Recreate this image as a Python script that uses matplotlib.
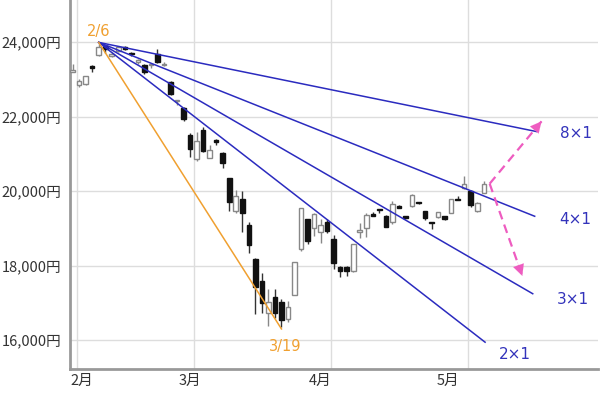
import matplotlib
matplotlib.use("Agg")
import matplotlib.pyplot as plt
from matplotlib.ticker import FuncFormatter
import matplotlib.transforms as mtransforms

plt.rcParams['font.family'] = ['Noto Sans CJK JP', 'DejaVu Sans']

# 日経平均 日足 (2020/1/31 - 5/8), 営業日インデックスで並べる
dates = ["1/31", "2/3", "2/4", "2/5", "2/6", "2/7", "2/10", "2/12", "2/13", "2/14",
         "2/17", "2/18", "2/19", "2/20", "2/21", "2/25", "2/26", "2/27", "2/28",
         "3/2", "3/3", "3/4", "3/5", "3/6", "3/9", "3/10", "3/11", "3/12", "3/13",
         "3/16", "3/17", "3/18", "3/19", "3/23", "3/24", "3/25", "3/26", "3/27",
         "3/30", "3/31", "4/1", "4/2", "4/3", "4/6", "4/7", "4/8", "4/9", "4/10",
         "4/13", "4/14", "4/15", "4/16", "4/17", "4/20", "4/21", "4/22", "4/23",
         "4/24", "4/27", "4/28", "4/30", "5/1", "5/7", "5/8"]
opens = [23200, 22860, 22880, 23340, 23660, 23900, 23640, 23760, 23880, 23710,
         23460, 23390, 23380, 23690, 23380, 22940, 22420, 22230, 21520,
         20850, 21650, 20900, 21380, 21030, 20350, 19470, 19780, 19080, 18190,
         17590, 16730, 17160, 17010, 16570, 17210, 18450, 19240, 19020,
         18890, 19170, 18710, 17960, 17960, 17860, 18890, 19020, 19380, 19520,
         19330, 19160, 19610, 19330, 19600, 19700, 19460, 19160, 19315,
         19330, 19420, 19790, 20090, 20000, 19470, 19960]
highs = [23410, 23000, 23090, 23400, 23995, 23930, 23740, 23870, 23900, 23730,
         23540, 23420, 23420, 23810, 23470, 22960, 22440, 22260, 21560,
         21600, 21720, 21250, 21400, 21060, 20360, 20040, 20000, 19160, 18200,
         17800, 17370, 17370, 17100, 17050, 18100, 19560, 19260, 19420,
         19240, 19250, 18820, 17990, 17990, 18580, 19150, 19420, 19430, 19525,
         19350, 19730, 19630, 19340, 19920, 19720, 19480, 19170, 19450,
         19340, 19800, 19860, 20400, 20020, 19700, 20270]
lows = [23190, 22800, 22860, 23200, 23640, 23700, 23600, 23730, 23800, 23620,
        23420, 23150, 23300, 23440, 23370, 22580, 22300, 21880, 20916,
        20800, 21050, 20880, 21250, 20627, 19470, 19400, 18890, 18340, 16690,
        16740, 16380, 16600, 16358, 16480, 17200, 18400, 18580, 18800,
        18620, 18880, 17900, 17700, 17720, 17820, 18750, 18760, 19330, 19400,
        19040, 19110, 19540, 19260, 19580, 19650, 19220, 18980, 19290,
        19220, 19400, 19760, 20070, 19570, 19450, 19940]
closes = [23250, 22971, 23084, 23319, 23873, 23827, 23685, 23861, 23827, 23687,
          23523, 23193, 23400, 23479, 23386, 22605, 22426, 21948, 21142,
          21344, 21082, 21100, 21329, 20749, 19698, 19867, 19416, 18559, 17431,
          17002, 17011, 16726, 16552, 16887, 18092, 19546, 18664, 19389,
          19084, 18917, 18065, 17860, 17860, 18576, 18950, 19353, 19345, 19498,
          19043, 19660, 19556, 19290, 19897, 19669, 19280, 19137, 19429,
          19262, 19783, 19771, 20193, 19619, 19674, 20179]

# ギャン・アングル (2/6 高値から)
start_day = 4
start_price = 23995
gann_labels = ["8×1", "4×1", "3×1", "2×1"]
gann_slopes = [35.7, 69.9, 101.5, 136.0]   # 1日あたりの下落幅
gann_end = [71.1, 70.8, 70.5, 63.2]
low_day = 32          # 3/19
low_price = 16300

# 今後のシナリオ (矢印)
arrow_start = (63.9, 20200)
arrow_up = (71.85, 21875)
arrow_down = (68.9, 17725)

month_labels = ["2月", "3月", "4月", "5月"]
month_first = [1, 19, 40, 61]

fig = plt.figure(figsize=(6, 3.94), dpi=100)
ax = fig.add_axes([70 / 600, 25 / 394, 528 / 600, 369 / 394])

ax.set_xlim(-0.4, 80.5)
ax.set_ylim(15224, 25133)

# グリッド
ax.set_yticks([16000, 18000, 20000, 22000, 24000])
ax.yaxis.set_major_formatter(FuncFormatter(lambda v, p: f"{int(v):,}円"))
ax.set_xticks([m - 0.4 for m in month_first])
ax.set_xticklabels([])
ax.grid(True, color="#dddddd", linewidth=1)
ax.set_axisbelow(True)
ax.tick_params(axis="both", length=0, labelsize=10.5, labelcolor="#333333", pad=6)
ax.tick_params(axis="x", pad=0)
for s in ["top", "right"]:
    ax.spines[s].set_visible(False)
for s in ["left", "bottom"]:
    ax.spines[s].set_color("#999999")
    ax.spines[s].set_linewidth(2)

trans = mtransforms.blended_transform_factory(ax.transData, ax.transAxes)
label_pos = [1.4, 18.0, 37.9, 57.5]
for lbl, xp in zip(month_labels, label_pos):
    ax.text(xp, -0.033, lbl, transform=trans, ha="center", va="center",
            fontsize=10.5, color="#333333")

# ローソク足
xs = list(range(len(dates)))
for x, o, h, l, c in zip(xs, opens, highs, lows, closes):
    up = c >= o
    wick_col = "#888888" if up else "#333333"
    ax.vlines(x, l, h, color=wick_col, linewidth=1, zorder=2)
    bottom = min(o, c)
    height = max(abs(c - o), 30)
    if up:
        ax.bar(x, height, bottom=bottom, width=0.7, facecolor="white",
               edgecolor="#888888", linewidth=1, zorder=3)
    else:
        ax.bar(x, height, bottom=bottom, width=0.7, facecolor="#111111",
               edgecolor="#111111", linewidth=1, zorder=3)

# ギャンライン
for lbl, sl, end in zip(gann_labels, gann_slopes, gann_end):
    ax.plot([start_day, end], [start_price, start_price - sl * (end - start_day)],
            color="#2b2bbf", linewidth=1.1, zorder=4)

label_xy = [(77.1, 21545), (77.0, 19242), (76.7, 17100), (67.8, 15600)]
for lbl, (lx, ly) in zip(gann_labels, label_xy):
    ax.text(lx, ly, lbl, ha="center", va="center", fontsize=11,
            color="#3333bb", family=["DejaVu Sans"])

ax.plot([start_day, low_day], [start_price, low_price], color="#f0a030",
        linewidth=1.1, zorder=4)
ax.text(4.05, 24280, dates[start_day], ha="center", va="center", fontsize=10.5,
        color="#f0a030", family=["DejaVu Sans"])
ax.text(32.5, 15815, dates[low_day], ha="center", va="center", fontsize=10.5,
        color="#f0a030", family=["DejaVu Sans"])

# ピンクの点線矢印
pink = "#ee5cc0"
for end in [arrow_up, arrow_down]:
    ax.plot([arrow_start[0], end[0]], [arrow_start[1], end[1]], color=pink,
            linewidth=1.6, linestyle=(0, (4, 2.5)), zorder=5)
    ax.annotate("", xy=end,
                xytext=(end[0] - (end[0] - arrow_start[0]) * 0.15,
                        end[1] - (end[1] - arrow_start[1]) * 0.15),
                arrowprops=dict(arrowstyle="-|>,head_length=0.8,head_width=0.4",
                                color=pink, linewidth=0.1, shrinkA=0, shrinkB=0),
                zorder=6)

fig.savefig("out.png", dpi=100)
